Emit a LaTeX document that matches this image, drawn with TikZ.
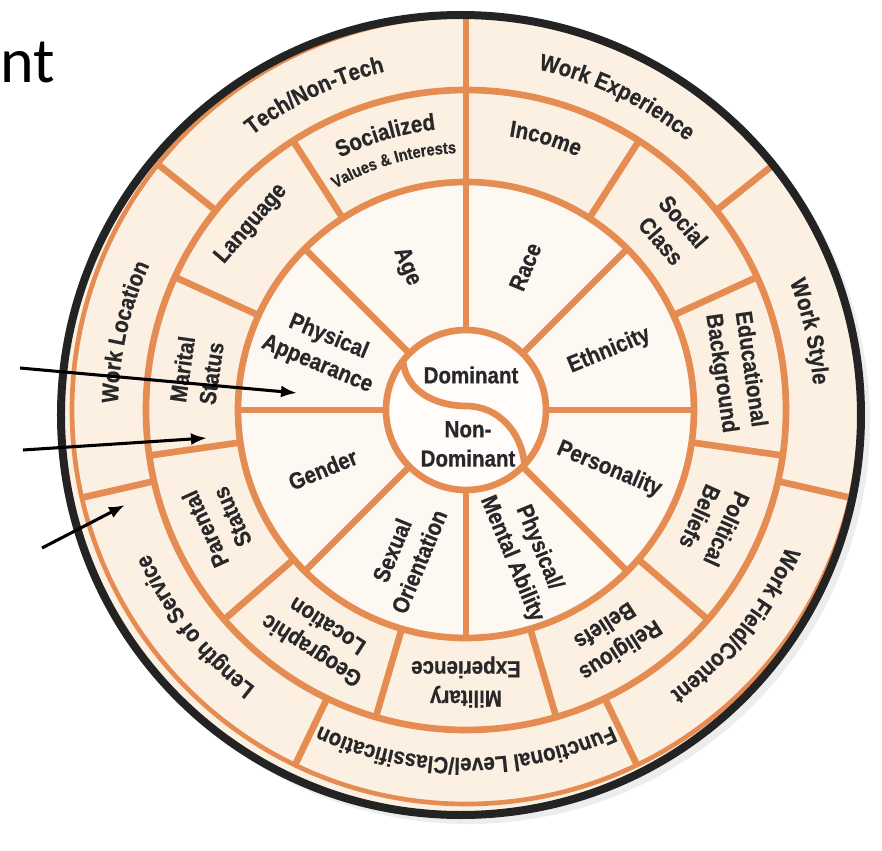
\documentclass[tikz,border=0pt]{standalone}
\usepackage{fontspec}
\setmainfont{Liberation Sans}[BoldFeatures={FakeStretch=0.88,FakeBold=0.6}]
\newfontfamily\slidefont{Carlito}
\usetikzlibrary{decorations.text,arrows.meta}
\definecolor{wheelorange}{RGB}{228,140,82}
\definecolor{outerfill}{RGB}{252,240,226}
\definecolor{innerfill}{RGB}{254,248,242}
\definecolor{hubfill}{RGB}{255,252,249}
\definecolor{labelgray}{RGB}{40,40,42}
\definecolor{rimblack}{RGB}{35,35,35}
\tikzset{>={Latex[length=12pt,width=9pt]}}
\newcommand{\wheelfont}{\fontsize{17.5}{22}\selectfont\bfseries}
\newcommand{\smallwheelfont}{\fontsize{12.5}{14}\selectfont\bfseries}

\begin{document}
\begin{tikzpicture}[x=0.75pt,y=0.75pt,
wheelline/.style={draw=wheelorange, line width=5pt},
ringlabel/.style={text=labelgray, font=\wheelfont, align=center, inner sep=0pt},
arclabel/.style={decorate, decoration={text along path, text align=center, text color=labelgray}},
]
\useasboundingbox (-466,-440) rectangle (416,410);

%Wheel
\fill[black!7] (2,-12) circle[radius=402];
\fill[outerfill] (-5,-5) circle[radius=400];
\fill[innerfill] (0,0) circle[radius=228];
\fill[hubfill] (0,0) circle[radius=80];
\foreach \a in {0,45,...,315} \draw[wheelline] (\a:80) -- (\a:228);
\foreach \k in {0,...,10} \draw[wheelline] ({90-\k*360/11}:228) -- ({90-\k*360/11}:320);
\foreach \k in {0,...,6} \draw[wheelline] ({90-\k*360/7}:320) -- ({90-\k*360/7}:394);
\draw[wheelline] (0,0) circle[radius=80];
\draw[wheelline] (0,0) circle[radius=228];
\draw[wheelline] (0,0) circle[radius=320];
\draw[wheelline, line width=3.5pt] (0,0) circle[radius=394];
\draw[rimblack, line width=6pt] (-5,-5) circle[radius=400];
\draw[wheelline] (142:80) to[out=-85,in=180] (0,4) to[out=0,in=95] (-43:80);

%Outer ring
\path[arclabel, decoration={text={|\wheelfont|Tech/Non-Tech}}] (160.71:348) arc[start angle=160.71, end angle=70.71, radius=348];
\path[arclabel, decoration={text={|\wheelfont|Work Experience}}] (109.29:348) arc[start angle=109.29, end angle=19.29, radius=348];
\path[arclabel, decoration={text={|\wheelfont|Work Style}}] (57.86:348) arc[start angle=57.86, end angle=-32.14, radius=348];
\path[arclabel, decoration={text={|\wheelfont|Work Field/Content}}] (6.43:348) arc[start angle=6.43, end angle=-83.57, radius=348];
\path[arclabel, decoration={text={|\wheelfont|Functional Level/Classification}}] (-40:348) arc[start angle=-40, end angle=-140, radius=348];
\path[arclabel, decoration={text={|\wheelfont|Length of Service}}] (-96.43:348) arc[start angle=-96.43, end angle=-186.43, radius=348];
\path[arclabel, decoration={text={|\wheelfont|Work Location}}] (212.14:348) arc[start angle=212.14, end angle=122.14, radius=348];

%Middle ring
\path[arclabel, decoration={text={|\wheelfont|Socialized}}] (151.36:282) arc[start angle=151.36, end angle=61.36, radius=282];
\path[arclabel, decoration={text={|\smallwheelfont|Values {\&} Interests}}] (151.36:257) arc[start angle=151.36, end angle=61.36, radius=257];
\path[arclabel, decoration={text={|\wheelfont|Income}}] (118.64:277) arc[start angle=118.64, end angle=28.64, radius=277];
\node[ringlabel, rotate=-49.09] (SocialClass) at (40.91:273) {Social\\Class};
\node[ringlabel, rotate=-81.82] (Educational) at (8.18:272) {Educational\\Background};
\node[ringlabel, rotate=-114.55] (Political) at (-24.55:272) {Political\\Beliefs};
\node[ringlabel, rotate=-147.27] (Religious) at (-57.27:272) {Religious\\Beliefs};
\node[ringlabel, rotate=-180] (Military) at (-90:272) {Military\\Experience};
\node[ringlabel, rotate=-212.73] (Geographic) at (-122.73:272) {Geographic\\Location};
\node[ringlabel, rotate=-245.45] (Parental) at (-155.45:272) {Parental\\Status};
\node[ringlabel, rotate=81.82] (Marital) at (171.82:272) {Marital\\Status};
\node[ringlabel, rotate=49.09] (Language) at (139.09:284) {Language};

%Inner ring
\node[ringlabel, rotate=-67.5] (Age) at (112.5:155) {Age};
\node[ringlabel, rotate=67.5] (Race) at (67.5:155) {Race};
\node[ringlabel, rotate=22.5] (Ethnicity) at (22.5:155) {Ethnicity};
\node[ringlabel, rotate=-22.5] (Personality) at (-22.5:155) {Personality};
\node[ringlabel, rotate=-67.5] (Ability) at (-67.5:155) {Physical/\\Mental Ability};
\node[ringlabel, rotate=67.5] (Orientation) at (-112.5:158) {Sexual\\Orientation};
\node[ringlabel, rotate=22.5] (Gender) at (-157.5:155) {Gender};
\node[ringlabel, rotate=-22.5] (Appearance) at (157.5:155) {Physical\\Appearance};

%Hub
\node[ringlabel] (Dominant) at (5,35) {Dominant};
\node[ringlabel] (NonDominant) at (2,-34) {Non-\\Dominant};

%Title
\node[anchor=base west, inner sep=0pt, font=\slidefont\fontsize{48}{58}\selectfont] (Title) at (-466,327) {nt};

%Arrows
\coordinate (ArrowAStart) at (-446,42);
\coordinate (ArrowATip) at (-169,17);
\coordinate (ArrowBStart) at (-443,-40);
\coordinate (ArrowBTip) at (-259,-28);
\coordinate (ArrowCStart) at (-424,-138);
\coordinate (ArrowCTip) at (-341,-95);
\draw[->, line width=2.3pt] (ArrowAStart) -- (ArrowATip);
\draw[->, line width=2.3pt] (ArrowBStart) -- (ArrowBTip);
\draw[->, line width=2.3pt] (ArrowCStart) -- (ArrowCTip);
\end{tikzpicture}
\end{document}
